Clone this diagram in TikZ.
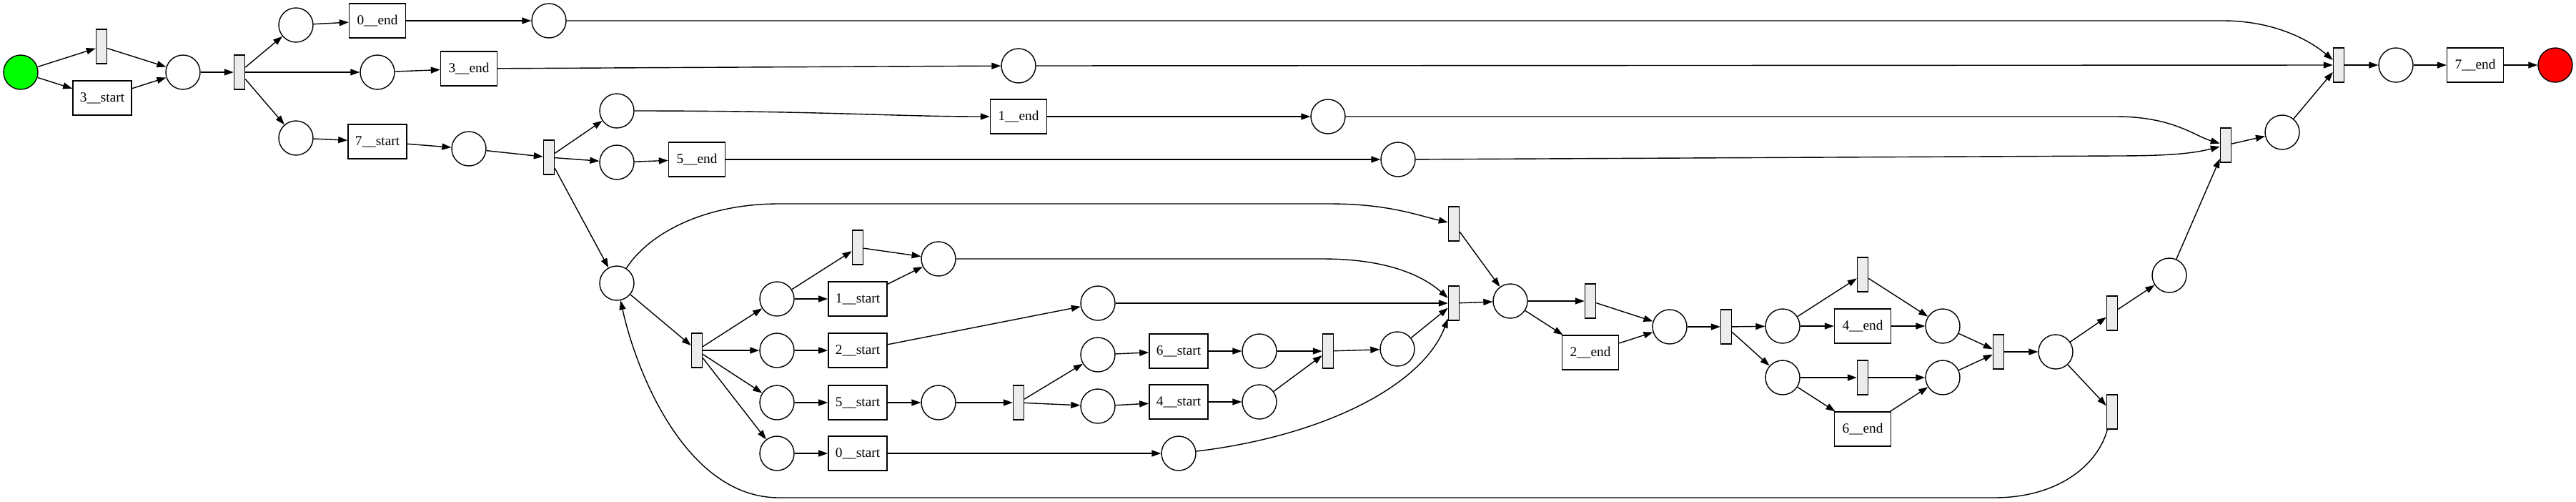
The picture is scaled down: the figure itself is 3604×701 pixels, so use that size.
\documentclass[tikz,border=0pt]{standalone}
\usepackage{fontspec}
\setmainfont{Liberation Serif}
\usepackage{tikz}
\usetikzlibrary{arrows.meta,positioning,calc}

\begin{document}
\begin{tikzpicture}[->, >={Triangle[length=2.6mm,width=1.8mm]}, thick, x=0.02cm, y=-0.02cm]
    \tikzstyle{place}=[circle,draw=black,fill=white,minimum size=0.96cm,inner sep=0pt]
    \tikzstyle{tau}=[rectangle,draw=black,fill=gray!15,minimum width=0.3cm,minimum height=0.96cm,inner sep=0pt]
    \tikzstyle{task}=[rectangle,draw=black,fill=white,minimum width=1.58cm,minimum height=0.96cm,inner xsep=0.2cm,font=\fontsize{11}{13}\selectfont]
    \useasboundingbox (0,0) rectangle (3604,701);

    \node[place,fill=green] (Pi)  at (29,101)   {};
    \node[tau]      (T1)  at (142,65)   {};
    \node[task]     (S3)  at (143,137)  {3\_\_start};
    \node[place]    (P1)  at (256,101)  {};
    \node[tau]      (T2)  at (335,101)  {};
    \node[place]    (P2)  at (414,35)   {};
    \node[task]     (E0)  at (528,29)   {0\_\_end};
    \node[place]    (P3)  at (768,29)   {};
    \node[place]    (P4)  at (528,101)  {};
    \node[task]     (E3)  at (656,96)   {3\_\_end};
    \node[place]    (P5)  at (1425,92)  {};
    \node[place]    (P6)  at (414,193)  {};
    \node[task]     (S7)  at (528,198)  {7\_\_start};
    \node[place]    (P7)  at (656,208)  {};
    \node[tau]      (T3)  at (768,220)  {};

    \node[place]    (P8)  at (863,155)  {};
    \node[task]     (E1)  at (1425,163) {1\_\_end};
    \node[place]    (P9)  at (1858,163) {};
    \node[place]    (P10) at (863,227)  {};
    \node[task]     (E5)  at (975,223)  {5\_\_end};
    \node[place]    (P11) at (1956,223) {};
    \node[place]    (P12) at (863,396)  {};

    \node[tau]      (T4)  at (975,490)  {};
    \node[place]    (P13) at (1087,418) {};
    \node[tau]      (T5)  at (1200,346) {};
    \node[task]     (S1)  at (1200,418) {1\_\_start};
    \node[place]    (P14) at (1313,362) {};
    \node[place]    (P15) at (1087,490) {};
    \node[task]     (S2)  at (1200,490) {2\_\_start};
    \node[place]    (P16) at (1536,424) {};
    \node[place]    (P17) at (1087,563) {};
    \node[task]     (S5)  at (1200,563) {5\_\_start};
    \node[place]    (P18) at (1313,563) {};
    \node[tau]      (T6)  at (1425,563) {};
    \node[place]    (P19) at (1536,496) {};
    \node[task]     (S6)  at (1649,491) {6\_\_start};
    \node[place]    (P20) at (1762,491) {};
    \node[place]    (P22) at (1536,568) {};
    \node[task]     (S4)  at (1649,562) {4\_\_start};
    \node[place]    (P23) at (1762,562) {};
    \node[tau]      (T7)  at (1858,491) {};
    \node[place]    (P21) at (1955,488) {};
    \node[place]    (P24) at (1087,634) {};
    \node[task]     (S0)  at (1200,634) {0\_\_start};
    \node[place]    (P25) at (1649,634) {};

    \node[tau]      (T8)  at (2034,313) {};
    \node[tau]      (T9)  at (2034,424) {};
    \node[place]    (P26) at (2113,421) {};
    \node[tau]      (T10) at (2225,421) {};
    \node[task]     (E2)  at (2225,493) {2\_\_end};
    \node[place]    (P27) at (2336,457) {};
    \node[tau]      (T11) at (2415,457) {};
    \node[place]    (P28) at (2494,456) {};
    \node[tau]      (T12) at (2606,384) {};
    \node[task]     (E4)  at (2606,456) {4\_\_end};
    \node[place]    (P29) at (2718,456) {};
    \node[place]    (P30) at (2494,528) {};
    \node[tau]      (T13) at (2606,528) {};
    \node[task]     (E6)  at (2606,600) {6\_\_end};
    \node[place]    (P31) at (2718,528) {};
    \node[tau]      (T14) at (2796,492) {};
    \node[place]    (P32) at (2876,492) {};
    \node[tau]      (T15) at (2955,438) {};
    \node[tau]      (T16) at (2955,576) {};
    \node[place]    (P33) at (3035,385) {};
    \node[tau]      (T17) at (3114,203) {};
    \node[place]    (P34) at (3193,185) {};
    \node[tau]      (T18) at (3272,91)  {};
    \node[place]    (P35) at (3352,91)  {};
    \node[task]     (E7)  at (3463,91)  {7\_\_end};
    \node[place,fill=red] (Po) at (3575,91) {};

    \path
(Pi)  edge (T1) edge (S3)
(T1)  edge (P1)
(S3)  edge (P1)
(P1)  edge (T2)
(T2)  edge (P2) edge (P4) edge (P6)
(P2)  edge (E0)
(E0)  edge (P3)
(P4)  edge (E3)
(E3)  edge (P5)
(P5)  edge (T18)
(P6)  edge (S7)
(S7)  edge (P7)
(P7)  edge (T3)
(T3)  edge (P8) edge (P10) edge (P12)
(E1)  edge (P9)
(P10) edge (E5)
(E5)  edge (P11)
(P12) edge (T4)
(T4)  edge (P13) edge (P15) edge (P17) edge (P24)
(P13) edge (T5) edge (S1)
(T5)  edge (P14)
(S1)  edge (P14)
(P15) edge (S2)
(S2)  edge (P16)
(P16) edge (T9)
(P17) edge (S5)
(S5)  edge (P18)
(P18) edge (T6)
(T6)  edge (P19) edge (P22)
(P19) edge (S6)
(S6)  edge (P20)
(P20) edge (T7)
(P22) edge (S4)
(S4)  edge (P23)
(P23) edge (T7)
(T7)  edge (P21)
(P21) edge (T9)
(P24) edge (S0)
(S0)  edge (P25)
(T8)  edge (P26)
(T9)  edge (P26)
(P26) edge (T10) edge (E2)
(T10) edge (P27)
(E2)  edge (P27)
(P27) edge (T11)
(T11) edge (P28) edge (P30)
(P28) edge (T12) edge (E4)
(T12) edge (P29)
(E4)  edge (P29)
(P30) edge (T13) edge (E6)
(T13) edge (P31)
(E6)  edge (P31)
(P29) edge (T14)
(P31) edge (T14)
(T14) edge (P32)
(P32) edge (T15) edge (T16)
(T15) edge (P33)
(P33) edge (T17)
(T17) edge (P34)
(P34) edge (T18)
(T18) edge (P35)
(P35) edge (E7)
(E7)  edge (Po);

    \draw (P3) -- (3110,29) .. controls (3180,29) and (3230,55) .. (T18);
    \draw (P8) .. controls (1150,155) and (1250,163) .. (E1);
    \draw (P9) -- (2960,163) .. controls (3040,163) and (3070,190) .. (T17);
    \draw (P11) -- (2960,218) .. controls (3040,218) and (3070,214) .. (T17);
    \draw (P14) -- (1850,362) .. controls (1940,362) and (1990,385) .. (T9);
    \draw (P25) .. controls (1850,610) and (1990,540) .. (T9);
    \draw (P12) .. controls (905,330) and (980,285) .. (1090,285) -- (1860,285) .. controls (1940,285) and (1980,300) .. (T8);
    \draw (T16) .. controls (2935,650) and (2880,696) .. (2790,696) -- (1090,696) .. controls (960,696) and (890,520) .. (P12);
  \end{tikzpicture}
\end{document}
